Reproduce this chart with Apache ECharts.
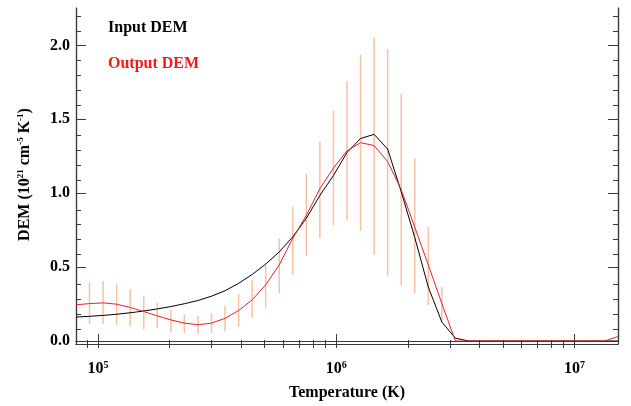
<!DOCTYPE html>
<html>
<head>
<meta charset="utf-8">
<script src="https://cdn.jsdelivr.net/npm/echarts@6/dist/echarts.min.js"></script>
<style>
html, body { margin: 0; padding: 0; background: #fff; }
#chart { width: 631px; height: 406px; }
</style>
</head>
<body>
<div id="chart"></div>
<script>
// temperature grid (K), log spaced
const temps = [
    8.09e4, 9.22e4, 1.051e5, 1.198e5, 1.366e5, 1.557e5, 1.774e5, 2.023e5, 2.305e5, 2.628e5,
    2.996e5, 3.415e5, 3.893e5, 4.438e5, 5.058e5, 5.766e5, 6.574e5, 7.490e5, 8.539e5, 9.734e5,
    1.1096e6, 1.265e6, 1.442e6, 1.643e6, 1.874e6, 2.136e6, 2.434e6, 2.775e6, 3.163e6, 3.606e6,
    4.111e6, 4.686e6, 5.340e6, 6.087e6, 6.939e6, 7.907e6, 9.016e6, 1.0278e7, 1.171e7, 1.335e7,
    1.522e7
];

const inputDem = [
    0.162, 0.167, 0.173, 0.181, 0.191, 0.203, 0.217, 0.233, 0.252, 0.274,
    0.303, 0.340, 0.390, 0.450, 0.520, 0.603, 0.705, 0.830, 0.985, 1.12,
    1.275, 1.370, 1.398, 1.299, 1.01, 0.70, 0.365, 0.128, 0.019, 0,
    0, 0, 0, 0, 0, 0, 0, 0, 0, 0,
    0
];

const outputDem = [
    0.245, 0.253, 0.258, 0.249, 0.227, 0.199, 0.170, 0.143, 0.121, 0.110,
    0.121, 0.153, 0.206, 0.278, 0.380, 0.515, 0.695, 0.850, 1.03, 1.17,
    1.286, 1.342, 1.322, 1.214, 1.024, 0.77, 0.515, 0.253, 0, 0,
    0, 0, 0, 0, 0, 0, 0, 0, 0, 0,
    0.03
];

// error bars on the output DEM
const errTemps = temps.slice(1, 28);
const errLow = [
    0.113, 0.113, 0.107, 0.100, 0.080, 0.085, 0.059, 0.052, 0.048, 0.055,
    0.066, 0.097, 0.160, 0.226, 0.325, 0.448, 0.575, 0.695, 0.785, 0.819,
    0.745, 0.584, 0.444, 0.377, 0.325, 0.243, 0.130
];
const errHigh = [
    0.400, 0.404, 0.384, 0.350, 0.305, 0.258, 0.213, 0.180, 0.169, 0.186,
    0.238, 0.316, 0.412, 0.512, 0.694, 0.907, 1.131, 1.349, 1.558, 1.755,
    1.936, 2.052, 1.974, 1.674, 1.235, 0.772, 0.365
];

const xMajorTicks = [1e5, 1e6, 1e7];
const xMinorTicks = [9e4, 2e5, 3e5, 4e5, 5e5, 6e5, 7e5, 8e5, 9e5,
    2e6, 3e6, 4e6, 5e6, 6e6, 7e6, 8e6, 9e6];
const yMajorTicks = [0, 0.5, 1.0, 1.5, 2.0];
const yMinorTicks = [0.1, 0.2, 0.3, 0.4, 0.6, 0.7, 0.8, 0.9, 1.1, 1.2, 1.3, 1.4,
    1.6, 1.7, 1.8, 1.9, 2.1, 2.2];

const FONT = "'Liberation Serif', 'DejaVu Serif', serif";
const AXIS_COLOR = '#3a3a3a';
const RED = '#e3232b';

const gridRect = { left: 76, right: 13, top: 8, bottom: 62 };
const xRange = { type: 'log', logBase: 10, min: temps[0], max: temps[temps.length - 1] };
const yRange = { type: 'value', min: 0, max: 2.253 };

function xAxisCfg(gridIndex, position, ticks, len, withLabel) {
    const cfg = Object.assign({}, xRange, {
        gridIndex: gridIndex,
        position: position,
        axisLine: { show: true, lineStyle: { color: AXIS_COLOR, width: 1.2 } },
        axisTick: { show: true, inside: true, length: len, customValues: ticks,
            lineStyle: { color: AXIS_COLOR, width: 1 } },
        axisLabel: { show: false },
        splitLine: { show: false }
    });
    if (withLabel) {
        cfg.axisLabel = {
            show: true,
            customValues: ticks,
            margin: 19,
            formatter: v => '{b|10}{s|' + Math.round(Math.log10(v)) + '}',
            rich: {
                b: { fontFamily: FONT, fontWeight: 'bold', fontSize: 16, color: '#000' },
                s: { fontFamily: FONT, fontWeight: 'bold', fontSize: 10, color: '#000', verticalAlign: 'top', padding: [0, 0, 8, 0] }
            }
        };
        cfg.name = 'Temperature (K)';
        cfg.nameLocation = 'middle';
        cfg.nameGap = 44;
        cfg.nameTextStyle = { fontFamily: FONT, fontWeight: 'bold', fontSize: 16, color: '#000' };
    }
    return cfg;
}

function yAxisCfg(gridIndex, position, ticks, len, withLabel) {
    const cfg = Object.assign({}, yRange, {
        gridIndex: gridIndex,
        position: position,
        axisLine: { show: true, lineStyle: { color: AXIS_COLOR, width: 1.2 } },
        axisTick: { show: true, inside: true, length: len, customValues: ticks,
            lineStyle: { color: AXIS_COLOR, width: 1 } },
        axisLabel: { show: false },
        splitLine: { show: false }
    });
    if (withLabel) {
        cfg.axisLabel = {
            show: true,
            customValues: ticks,
            margin: 6,
            formatter: v => v.toFixed(1),
            fontFamily: FONT, fontWeight: 'bold', fontSize: 16, color: '#000'
        };
        cfg.name = '{b|DEM (10}{s|21}{b| cm}{s|-5}{b| K}{s|-1}{b|)}';
        cfg.nameLocation = 'middle';
        cfg.nameGap = 43;
        cfg.nameTextStyle = {
            rich: {
                b: { fontFamily: FONT, fontWeight: 'bold', fontSize: 16, color: '#000' },
                s: { fontFamily: FONT, fontWeight: 'bold', fontSize: 9, color: '#000', verticalAlign: 'top', padding: [0, 0, 8, 0] }
            }
        };
    }
    return cfg;
}

const chart = echarts.init(document.getElementById('chart'), null, { renderer: 'canvas' });

const option = {
    animation: false,
    backgroundColor: '#fff',
    grid: [
        Object.assign({}, gridRect),
        Object.assign({}, gridRect)
    ],
    legend: {
        orient: 'vertical',
        left: 98,
        top: 15,
        itemGap: 20,
        itemWidth: 0,
        itemHeight: 0,
        icon: 'none',
        selectedMode: false,
        textStyle: { fontFamily: FONT, fontWeight: 'bold', fontSize: 16 },
        data: [
            { name: 'Input DEM', textStyle: { color: '#000' } },
            { name: 'Output DEM', textStyle: { color: '#f01a1a' } }
        ]
    },
    xAxis: [
        xAxisCfg(0, 'bottom', xMajorTicks, 7, true),
        xAxisCfg(0, 'top', xMajorTicks, 7, false),
        xAxisCfg(1, 'bottom', xMinorTicks, 4, false),
        xAxisCfg(1, 'top', xMinorTicks, 4, false)
    ],
    yAxis: [
        yAxisCfg(0, 'left', yMajorTicks, 10, true),
        yAxisCfg(0, 'right', yMajorTicks, 10, false),
        yAxisCfg(1, 'left', yMinorTicks, 5, false),
        yAxisCfg(1, 'right', yMinorTicks, 5, false)
    ],
    series: [
        {
            name: 'error',
            type: 'custom',
            xAxisIndex: 0,
            yAxisIndex: 0,
            z: 1,
            silent: true,
            data: errTemps.map((t, i) => [t, errLow[i], errHigh[i]]),
            encode: { x: 0, y: [1, 2] },
            renderItem: function (params, api) {
                const p1 = api.coord([api.value(0), api.value(1)]);
                const p2 = api.coord([api.value(0), api.value(2)]);
                return {
                    type: 'line',
                    shape: { x1: p1[0], y1: p1[1], x2: p2[0], y2: p2[1] },
                    style: { stroke: '#fbbfa4', lineWidth: 1.5 }
                };
            }
        },
        {
            name: 'Input DEM',
            type: 'line',
            xAxisIndex: 0,
            yAxisIndex: 0,
            z: 3,
            showSymbol: false,
            data: temps.map((t, i) => [t, inputDem[i]]),
            lineStyle: { color: '#000', width: 1 },
            itemStyle: { color: '#000' }
        },
        {
            name: 'Output DEM',
            type: 'line',
            xAxisIndex: 0,
            yAxisIndex: 0,
            z: 4,
            showSymbol: false,
            data: temps.map((t, i) => [t, outputDem[i]]),
            lineStyle: { color: RED, width: 1 },
            itemStyle: { color: RED }
        }
    ]
};

chart.setOption(option);
</script>
</body>
</html>
